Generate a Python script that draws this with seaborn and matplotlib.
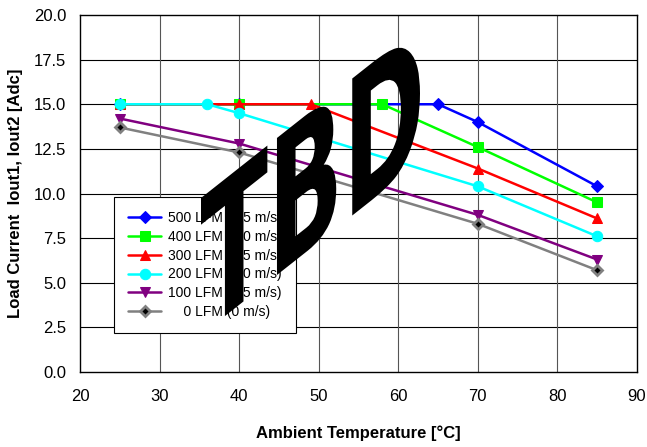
import numpy as np
import pandas as pd
import matplotlib
matplotlib.use("Agg")
import matplotlib.pyplot as plt
import seaborn as sns
from matplotlib.textpath import TextPath
from matplotlib.patches import PathPatch
from matplotlib.font_manager import FontProperties
from matplotlib.transforms import Affine2D
from matplotlib.ticker import FormatStrFormatter, MultipleLocator

# ---- data ----
labels = ["500 LFM (2.5 m/s)", "400 LFM (2.0 m/s)", "300 LFM (1.5 m/s)",
          "200 LFM (1.0 m/s)", "100 LFM (0.5 m/s)", "    0 LFM (0 m/s)"]
x_500 = [25, 40, 65, 70, 85]
y_500 = [15.0, 15.0, 15.0, 14.0, 10.4]
x_400 = [25, 40, 58, 70, 85]
y_400 = [15.0, 15.0, 15.0, 12.6, 9.5]
x_300 = [25, 40, 49, 70, 85]
y_300 = [15.0, 15.0, 15.0, 11.4, 8.6]
x_200 = [25, 36, 40, 70, 85]
y_200 = [15.0, 15.0, 14.5, 10.4, 7.6]
x_100 = [25, 40, 70, 85]
y_100 = [14.2, 12.8, 8.8, 6.3]
x_0 = [25, 40, 70, 85]
y_0 = [13.7, 12.3, 8.3, 5.7]

xs = [x_500, x_400, x_300, x_200, x_100, x_0]
ys = [y_500, y_400, y_300, y_200, y_100, y_0]
colors = ["#0000FF", "#00FF00", "#FF0000", "#00FFFF", "#800080", "#808080"]
markers = ["D", "s", "^", "o", "v", "D"]
msizes = [6.5, 6.5, 6.5, 7.5, 6.5, 5]

sns.set_theme(style="white")
plt.rcParams["font.family"] = ["Liberation Sans", "DejaVu Sans"]
plt.rcParams["text.color"] = "black"
plt.rcParams["axes.labelcolor"] = "black"
plt.rcParams["xtick.color"] = "black"
plt.rcParams["ytick.color"] = "black"

fig = plt.figure(figsize=(6.47, 4.47), dpi=100)
ax = fig.add_axes([80/647, 1 - 372/447, (637-80)/647, (372-15)/447])

for i in range(6):
    df = pd.DataFrame({"x": xs[i], "y": ys[i]})
    kw = dict(marker=markers[i], markersize=msizes[i], markeredgecolor=colors[i],
              markerfacecolor=colors[i])
    if i == 5:
        kw.update(markerfacecolor="black", markeredgecolor=colors[i], markeredgewidth=2.0)
    sns.lineplot(data=df, x="x", y="y", ax=ax, color=colors[i], linewidth=1.8,
                 label=labels[i], sort=False, estimator=None, zorder=3 + i, **kw)

ax.set_xlim(20, 90)
ax.set_ylim(0, 20)
ax.xaxis.set_major_locator(MultipleLocator(10))
ax.yaxis.set_major_locator(MultipleLocator(2.5))
ax.yaxis.set_major_formatter(FormatStrFormatter("%.1f"))
ax.grid(False)
for yv in np.arange(2.5, 20, 2.5):
    ax.axhline(yv, color="black", linewidth=0.8, zorder=1)
for xv in range(30, 90, 10):
    ax.axvline(xv, color="#555555", linewidth=0.8, zorder=1)
for s in ax.spines.values():
    s.set_color("black")
    s.set_linewidth(1.0)
ax.tick_params(axis="both", length=0, labelsize=12, colors="black")
ax.tick_params(axis="x", pad=12)
ax.tick_params(axis="y", pad=10)
ax.set_xlabel("Ambient Temperature [°C]", fontsize=12, fontweight="bold", labelpad=16)
ax.set_ylabel("Load Current  Iout1, Iout2 [Adc]", fontsize=12, fontweight="bold", labelpad=8)

leg = ax.legend(loc="upper left", bbox_to_anchor=((114-80)/557, (372-197)/357),
                borderaxespad=0,
                fontsize=10, frameon=True, fancybox=False, framealpha=1,
                edgecolor="black", handlelength=2.4, handletextpad=0.5,
                labelspacing=0.35, borderpad=1.0)
leg.get_frame().set_linewidth(0.8)
leg.set_zorder(20)

# ---- TBD watermark (sheared text) ----
prop = FontProperties(family="DejaVu Sans", weight="bold")
tp = TextPath((0, 0), "TBD", size=100, prop=prop)
ext = tp.get_extents()
sx = 219.0 / ext.width
sy = 137.0 / 72.9
tr = (Affine2D().translate(-ext.x0, 0).scale(sx, sy)
      .skew(0, np.arctan(0.79)).translate(201, 447 - 335))
patch = PathPatch(tp, facecolor="black", edgecolor="none", transform=tr, zorder=30)
fig.add_artist(patch)

fig.savefig("out.png", dpi=100)
